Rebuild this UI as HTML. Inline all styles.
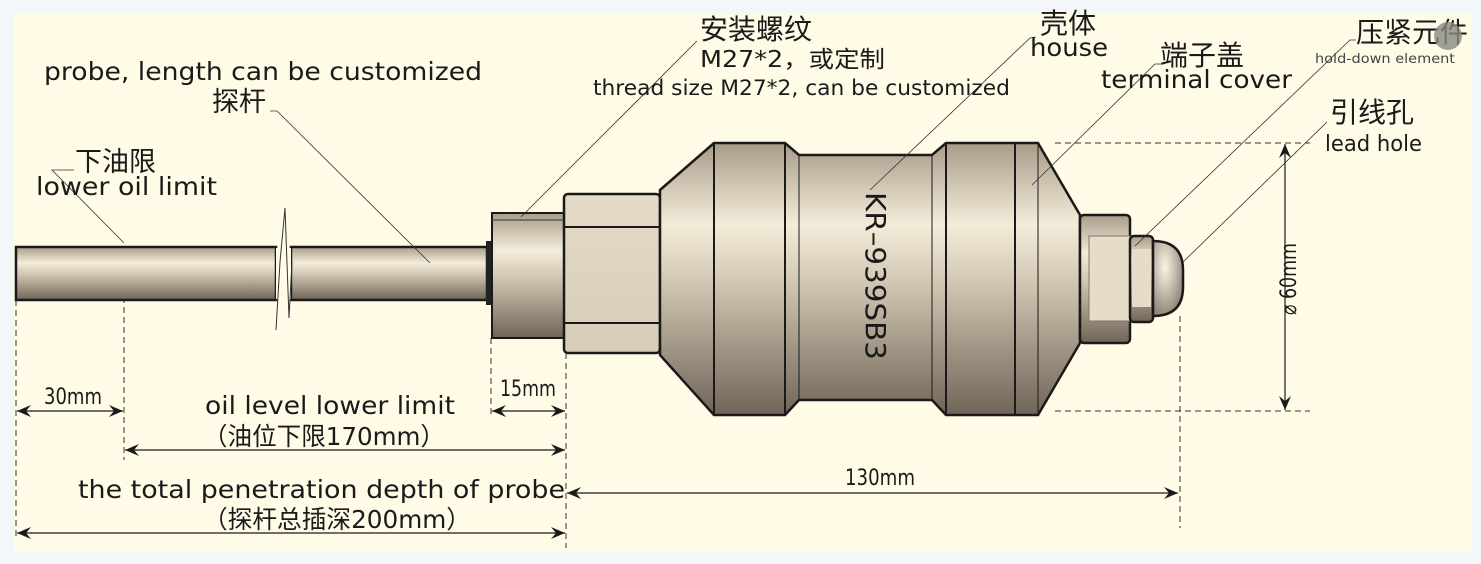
<!DOCTYPE html>
<html><head><meta charset="utf-8"><style>
html,body{margin:0;padding:0;background:#f4f7fa;}
svg{display:block;}
text{font-family:"DejaVu Sans","Liberation Sans","Noto Sans CJK SC",sans-serif;fill:#1a1a1a;}
.c{font-family:"Noto Sans CJK SC",sans-serif;}
</style></head><body>
<svg width="1481" height="564" viewBox="0 0 1481 564" xmlns="http://www.w3.org/2000/svg">
<defs>
<linearGradient id="m" x1="0" y1="0" x2="0" y2="1">
<stop offset="0" stop-color="#a89c88"/>
<stop offset="0.3" stop-color="#f4ecda"/>
<stop offset="0.55" stop-color="#cbc0ac"/>
<stop offset="1" stop-color="#6f6457"/>
</linearGradient>
<linearGradient id="h" x1="0" y1="0" x2="0" y2="1">
<stop offset="0" stop-color="#e4dac6"/><stop offset="1" stop-color="#d6ccb8"/>
</linearGradient>
<radialGradient id="d" cx="0.4" cy="0.35" r="0.7">
<stop offset="0" stop-color="#fbf5e6"/><stop offset="1" stop-color="#8a7f70"/>
</radialGradient>
<marker id="a" viewBox="0 0 14 12" refX="14" refY="6" markerWidth="14" markerHeight="12" markerUnits="userSpaceOnUse" orient="auto-start-reverse">
<path d="M0,0 L14,6 L0,12 L5,6 Z" fill="#1a1a1a"/>
</marker>
</defs>
<rect x="14" y="14" width="1457" height="538" fill="#fffbe6"/>

<g stroke="#333" stroke-width="1" stroke-dasharray="6,4" fill="none">
<line x1="16" y1="300" x2="16" y2="540"/>
<line x1="124" y1="247" x2="124" y2="460"/>
<line x1="491" y1="338" x2="491" y2="418"/>
<line x1="566" y1="353" x2="566" y2="548"/>
<line x1="1180" y1="316" x2="1180" y2="528"/>
<line x1="1055" y1="143" x2="1310" y2="143"/>
<line x1="1055" y1="411" x2="1310" y2="411"/>
</g>

<rect x="16" y="247" width="260" height="53" fill="url(#m)" stroke="#1a1a1a" stroke-width="2.5"/>
<rect x="291" y="247" width="196" height="53" fill="url(#m)" stroke="#1a1a1a" stroke-width="2.5"/>
<rect x="276" y="248" width="15" height="51" fill="#fffbe6"/>
<polyline points="276,330 280,262 285,208 289,318 292,262" fill="none" stroke="#333" stroke-width="1"/>
<rect x="486" y="241" width="8" height="64" fill="#222"/>
<rect x="492" y="213" width="72" height="125" fill="url(#m)" stroke="#1a1a1a" stroke-width="2"/>
<line x1="492" y1="220" x2="564" y2="220" stroke="#333"/>
<rect x="564" y="194" width="96" height="159" rx="4" fill="url(#h)" stroke="#1a1a1a" stroke-width="2.5"/>
<line x1="564" y1="227" x2="660" y2="227" stroke="#1a1a1a" stroke-width="2"/>
<line x1="564" y1="323" x2="660" y2="323" stroke="#1a1a1a" stroke-width="2"/>
<path d="M660,190 L714,143 L785,143 L799,155 L932,155 L946,143 L1038,143 L1080,215 L1080,343 L1038,415 L946,415 L932,400 L799,400 L785,415 L714,415 L660,355 Z" fill="url(#m)" stroke="#1a1a1a" stroke-width="2.5"/>
<g stroke="#1a1a1a" stroke-width="2">
<line x1="714" y1="143" x2="714" y2="415"/>
<line x1="785" y1="143" x2="785" y2="415"/>
<line x1="799" y1="155" x2="799" y2="400" stroke-width="1"/>
<line x1="932" y1="155" x2="932" y2="400" stroke-width="1"/>
<line x1="946" y1="143" x2="946" y2="415"/>
<line x1="1015" y1="143" x2="1015" y2="415"/>
<line x1="1038" y1="143" x2="1038" y2="415" stroke-width="1"/>
</g>
<text transform="translate(866,192) rotate(90)" font-size="28" font-family="Liberation Sans, sans-serif" textLength="168" lengthAdjust="spacingAndGlyphs">KR–939SB3</text>
<rect x="1080" y="215" width="50" height="128" rx="4" fill="url(#m)" stroke="#1a1a1a" stroke-width="2.5"/>
<rect x="1089" y="236" width="41" height="85" fill="#e6dcc8" stroke="#777" stroke-width="1"/>
<rect x="1130" y="236" width="23" height="86" rx="4" fill="url(#m)" stroke="#1a1a1a" stroke-width="2.5"/>
<rect x="1132" y="249" width="19" height="58" fill="#e6dcc8"/>
<path d="M1153,241 Q1183,241 1183,270 L1183,287 Q1183,316 1153,316 Z" fill="url(#d)" stroke="#1a1a1a" stroke-width="2.5"/>

<g stroke="#1a1a1a" stroke-width="1.2" fill="none">
<line x1="17" y1="411" x2="123" y2="411" marker-start="url(#a)" marker-end="url(#a)"/>
<line x1="492" y1="411" x2="565" y2="411" marker-start="url(#a)" marker-end="url(#a)"/>
<line x1="125" y1="450" x2="565" y2="450" marker-start="url(#a)" marker-end="url(#a)"/>
<line x1="17" y1="533" x2="565" y2="533" marker-start="url(#a)" marker-end="url(#a)"/>
<line x1="567" y1="493" x2="1178" y2="493" marker-start="url(#a)" marker-end="url(#a)"/>
<line x1="1285" y1="144" x2="1285" y2="410" marker-start="url(#a)" marker-end="url(#a)"/>
</g>

<g stroke="#333" stroke-width="0.8" fill="none">
<polyline points="430,263 277,111 270,111"/>
<polyline points="124,243 52,170 74,170"/>
<line x1="521" y1="217" x2="697" y2="41"/>
<polyline points="870,190 1030,38 1036,37"/>
<polyline points="1032,185 1155,64 1162,64"/>
<polyline points="1135,246 1350,40 1356,40"/>
<line x1="1183" y1="262" x2="1327" y2="122"/>
</g>

<text x="44" y="80" font-size="25" textLength="438" lengthAdjust="spacingAndGlyphs">probe, length can be customized</text>
<text class="c" x="212" y="111" font-size="27">探杆</text>
<text class="c" x="75" y="171" font-size="27">下油限</text>
<text x="36" y="195" font-size="25" textLength="181" lengthAdjust="spacingAndGlyphs">lower oil limit</text>
<text class="c" x="700" y="39" font-size="28">安装螺纹</text>
<text x="700" y="67" font-size="23" font-family="Liberation Mono, Noto Sans CJK SC, monospace" textLength="185" lengthAdjust="spacingAndGlyphs">M27*2，或定制</text>
<text x="593" y="95" font-size="21" textLength="417" lengthAdjust="spacingAndGlyphs">thread size M27*2, can be customized</text>
<text class="c" x="1040" y="33" font-size="28">壳体</text>
<text x="1030" y="56" font-size="25" textLength="78" lengthAdjust="spacingAndGlyphs">house</text>
<text class="c" x="1160" y="65" font-size="28">端子盖</text>
<text x="1101" y="88" font-size="25" textLength="191" lengthAdjust="spacingAndGlyphs">terminal cover</text>
<text class="c" x="1356" y="42" font-size="28">压紧元件</text>
<text x="1315" y="63" font-size="13" style="fill:#444" textLength="140" lengthAdjust="spacingAndGlyphs">hold-down element</text>
<text class="c" x="1330" y="122" font-size="28">引线孔</text>
<text x="1325" y="151" font-size="22" textLength="97" lengthAdjust="spacingAndGlyphs">lead hole</text>
<circle cx="1448" cy="36" r="14" fill="#8a8a80" opacity="0.8"/>
<text transform="translate(1296,315) rotate(-90)" font-size="22" font-family="Liberation Sans, sans-serif" textLength="72" lengthAdjust="spacingAndGlyphs">⌀ 60mm</text>

<text x="44" y="404" font-size="22" font-family="Liberation Sans, sans-serif" textLength="58" lengthAdjust="spacingAndGlyphs">30mm</text>
<text x="500" y="396" font-size="22" font-family="Liberation Sans, sans-serif" textLength="56" lengthAdjust="spacingAndGlyphs">15mm</text>
<text x="205" y="414" font-size="25" textLength="250" lengthAdjust="spacingAndGlyphs">oil level lower limit</text>
<text x="203" y="445" font-size="25" textLength="242" lengthAdjust="spacingAndGlyphs">（油位下限170mm）</text>
<text x="78" y="498" font-size="25" textLength="487" lengthAdjust="spacingAndGlyphs">the total penetration depth of probe</text>
<text x="203" y="528" font-size="25" textLength="268" lengthAdjust="spacingAndGlyphs">（探杆总插深200mm）</text>
<text x="845" y="485" font-size="22" font-family="Liberation Sans, sans-serif" textLength="70" lengthAdjust="spacingAndGlyphs">130mm</text>
</svg>
</body></html>
